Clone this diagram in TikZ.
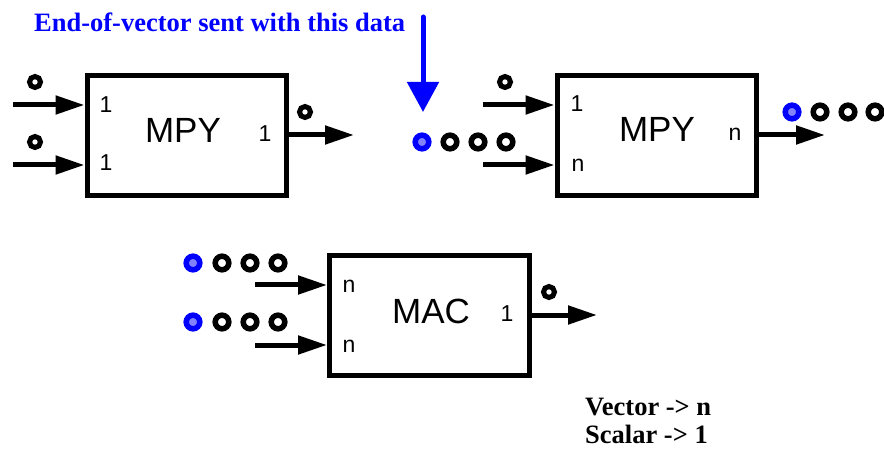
\documentclass[tikz,border=0pt]{standalone}
\usepackage{fontspec}
\setmainfont{Liberation Serif}
\setsansfont{Liberation Sans}
\usetikzlibrary{arrows.meta}
\definecolor{vblue}{RGB}{0,0,255}
\definecolor{vlight}{RGB}{130,130,255}
\begin{document}
\begin{tikzpicture}[x=1pt,y=-1pt,
  blk/.style={draw, line width=5pt, minimum width=199pt, minimum height=120pt, inner sep=0pt},
  arr/.style={line width=5pt, -{Triangle[length=29pt,width=18pt]}},
  sring/.style={draw, line width=5pt},
  ring/.style={draw, line width=5.5pt},
  bring/.style={draw=vblue, fill=vlight, line width=5.5pt},
  big/.style={font=\sffamily\fontsize{35}{35}\selectfont},
  port/.style={font=\sffamily\fontsize{23}{23}\selectfont, inner sep=0pt},
  note/.style={font=\bfseries\fontsize{26.5}{26.5}\selectfont, inner sep=0pt, anchor=base west}]
\path[use as bounding box] (0,0) rectangle (884,449);
\def\sr{5.5pt}
\def\vr{6.8pt}

% title and blue arrow
\node[note, text=vblue] (title) at (34,32) {End-of-vector sent with this data};
\coordinate (bt) at (423,17);
\coordinate (bb) at (423,112);
\draw[vblue, line width=5pt, line cap=round, -{Triangle[length=30pt,width=31pt]}] (bt) -- (bb);

% box 1
\node[blk] (b1) at (186.5,135.5) {};
\node[big] (b1t) at (183,130) {MPY};
\node[port] (b1p1) at (106,105) {1};
\node[port] (b1p2) at (106,163) {1};
\node[port] (b1p3) at (265,134) {1};
\coordinate (b1i1) at (13,105);
\coordinate (b1i2) at (13,165);
\coordinate (b1o) at (354,135);
\draw[arr] (b1i1) -- (b1i1 -| b1.west);
\draw[arr] (b1i2) -- (b1i2 -| b1.west);
\draw[arr] (b1o -| b1.east) -- (b1o);
\draw[sring] (35,82) circle[radius=\sr];
\draw[sring] (35,142) circle[radius=\sr];
\draw[sring] (305,112) circle[radius=\sr];

% box 2
\node[blk] (b2) at (656.5,135.5) {};
\node[big] (b2t) at (657,129) {MPY};
\node[port] (b2p1) at (577,104) {1};
\node[port] (b2p2) at (578,165) {n};
\node[port] (b2p3) at (735,134) {n};
\coordinate (b2i1) at (483,105);
\coordinate (b2i2) at (483,165);
\coordinate (b2o) at (825,135);
\draw[arr] (b2i1) -- (b2i1 -| b2.west);
\draw[arr] (b2i2) -- (b2i2 -| b2.west);
\draw[arr] (b2o -| b2.east) -- (b2o);
\draw[sring] (505,82) circle[radius=\sr];
\draw[bring] (422,142) circle[radius=\vr];
\draw[ring] (450,142) circle[radius=\vr];
\draw[ring] (478,142) circle[radius=\vr];
\draw[ring] (506,142) circle[radius=\vr];
\draw[bring] (792,112) circle[radius=\vr];
\draw[ring] (820,112) circle[radius=\vr];
\draw[ring] (848,112) circle[radius=\vr];
\draw[ring] (875,112) circle[radius=\vr];

% MAC
\node[blk, minimum width=200pt] (m) at (429.5,315.5) {};
\node[big] (mt) at (431,311) {MAC};
\node[port] (mp1) at (349,286) {n};
\node[port] (mp2) at (349,346) {n};
\node[port] (mp3) at (507,314) {1};
\coordinate (mi1) at (255,285);
\coordinate (mi2) at (255,345);
\coordinate (mo) at (597,315);
\draw[arr] (mi1) -- (mi1 -| m.west);
\draw[arr] (mi2) -- (mi2 -| m.west);
\draw[arr] (mo -| m.east) -- (mo);
\draw[bring] (193,263) circle[radius=\vr];
\draw[ring] (222,263) circle[radius=\vr];
\draw[ring] (250,263) circle[radius=\vr];
\draw[ring] (278,263) circle[radius=\vr];
\draw[bring] (193,322) circle[radius=\vr];
\draw[ring] (222,322) circle[radius=\vr];
\draw[ring] (250,322) circle[radius=\vr];
\draw[ring] (278,322) circle[radius=\vr];
\draw[sring] (549,292) circle[radius=\sr];

% legend
\node[note] (l1) at (585,415) {Vector -> n};
\node[note] (l2) at (585,443) {Scalar -> 1};
\end{tikzpicture}
\end{document}
